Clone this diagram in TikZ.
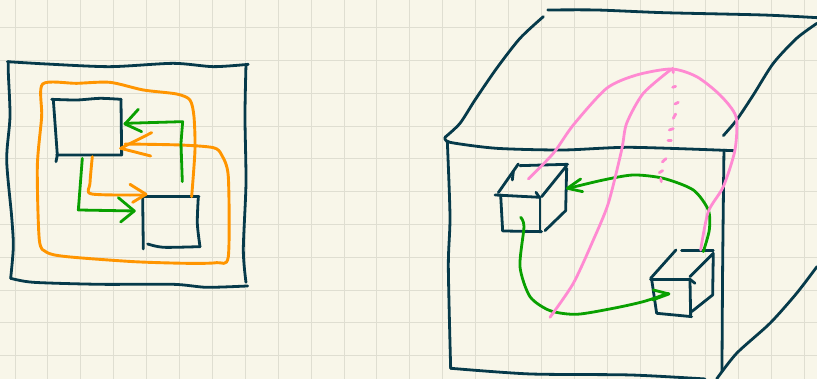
\documentclass[tikz,border=0pt]{standalone}
\definecolor{paper}{HTML}{F8F6E9}
\definecolor{gridc}{HTML}{DFDED1}
\definecolor{ink}{HTML}{063A4A}
\definecolor{orangeink}{HTML}{FF9500}
\definecolor{greenink}{HTML}{09A000}
\definecolor{pinkink}{HTML}{FF8AD2}
\tikzset{
  pen/.style={line width=2.8pt,line cap=round,line join=round},
  dk/.style={pen,draw=ink},
  og/.style={pen,draw=orangeink,line width=2.9pt},
  gn/.style={pen,draw=greenink},
  pk/.style={pen,draw=pinkink},
  sm/.style={smooth,tension=0.45},
  leftpart/.style={x=0.3333pt,y=-0.3333pt,shift={(0pt,-50pt)}},
  rightpart/.style={x=0.3333pt,y=-0.3333pt,shift={(430pt,0pt)}}
}
\begin{document}
\begin{tikzpicture}[x=1pt,y=-1pt]
\useasboundingbox (0,0) rectangle (817,379);
\fill[paper] (0,0) rectangle (817,379);
% grid
\foreach \k in {0,...,24} \draw[gridc,line width=1pt] ({15+32.9*\k},0) -- ({15+32.9*\k},379);
\foreach \k in {0,...,10} \draw[gridc,line width=1pt] (0,{27.7+32.8*\k}) -- (817,{27.7+32.8*\k});
% left sketch
\begin{scope}[leftpart]
\draw[dk] plot[sm] coordinates {(22,35)(140,42)(330,50)(520,40)(640,50)(745,43)};
\draw[dk] plot[sm] coordinates {(25,35)(25,70)(30,200)(20,330)(35,500)(40,590)(32,685)};
\draw[dk] plot[sm] coordinates {(738,45)(735,200)(738,400)(730,600)(738,697)};
\draw[dk] plot[sm] coordinates {(32,685)(100,697)(300,703)(520,703)(620,712)(743,708)};
\draw[dk] plot[sm] coordinates {(155,148)(230,150)(300,145)(363,148)};
\draw[dk] (363,148) -- (365,315) -- (170,315);
\draw[dk] (160,150) -- (172,315) -- (168,335);
\draw[dk] (425,440) -- (597,440);
\draw[dk] plot[sm] coordinates {(595,440)(592,520)(600,590)};
\draw[dk] plot[sm] coordinates {(443,582)(490,592)(600,590)};
\draw[dk] (428,440) -- (430,597);
\draw[og] plot[sm] coordinates {(575,440)(585,300)(582,200)(570,150)(530,132)(430,120)(330,97)(230,100)(128,102)(125,200)(112,350)(118,570)(140,607)(200,620)(400,635)(560,640)(650,638)(685,620)(685,380)(665,315)(640,293)(540,285)(375,282)};
\draw[og] (455,248) -- (362,295) -- (452,318);
\draw[og] plot[sm] coordinates {(277,320)(270,400)(275,432)(435,435)};
\draw[og] (390,403) -- (438,433) -- (398,457);
\draw[gn] (547,395) -- (543,280) -- (548,215) -- (375,220);
\draw[gn] (415,178) -- (375,222) -- (425,245);
\draw[gn] (247,325) -- (235,480) -- (403,483);
\draw[gn] (355,443) -- (403,483) -- (362,516);
\end{scope}
% right sketch
\begin{scope}[rightpart]
\draw[dk] plot[sm] coordinates {(45,412)(90,370)(135,300)(200,205)(270,115)(340,50)};
\draw[dk] plot[sm] coordinates {(353,30)(500,30)(700,38)(1000,45)(1161,53)};
\draw[dk] plot[sm] coordinates {(1161,70)(1100,115)(1030,190)(970,285)(920,360)(880,407)};
\draw[dk] plot[sm] coordinates {(45,412)(60,427)(200,445)(400,450)(600,442)(910,452)};
\draw[dk] plot[sm] coordinates {(52,425)(60,650)(55,800)(62,1105)};
\draw[dk] plot[sm] coordinates {(62,1105)(300,1122)(600,1125)(825,1137)};
\draw[dk] plot[sm] coordinates {(882,450)(878,800)(876,1115)};
\draw[dk] plot[sm] coordinates {(860,1137)(920,1060)(1020,970)(1100,880)(1161,800)};
% cube 1
\draw[dk] (195,585) -- (330,592);
\draw[dk] (212,585) -- (218,693) -- (335,695);
\draw[dk] (330,592) -- (330,695);
\draw[dk] (205,578) -- (265,492);
\draw[dk] (247,540) -- (250,515);
\draw[dk] (270,497) -- (413,493);
\draw[dk] (335,590) -- (410,497);
\draw[dk] (410,505) -- (407,632) -- (345,692);
\draw[dk] (318,577) -- (328,592);
% cube 2
\draw[dk] (662,838) -- (780,838);
\draw[dk] (665,838) -- (680,940) -- (785,950);
\draw[dk] (780,838) -- (782,945);
\draw[dk] (662,835) -- (738,750);
\draw[dk] (755,752) -- (850,752);
\draw[dk] (780,830) -- (850,760) -- (848,885) -- (785,935);
\draw[dk] (780,838) -- (795,850);
% green
\draw[gn] plot[sm] coordinates {(272,652)(282,680)(270,800)(300,890)(360,932)(440,943)(550,925)(640,905)(715,880)};
\draw[gn] (670,870) -- (717,882) -- (668,900);
\draw[gn] plot[sm] coordinates {(820,755)(838,690)(835,630)(790,570)(700,535)(610,525)(520,540)(415,565)};
\draw[gn] (452,537) -- (412,565) -- (458,575);
% pink
\draw[pk] plot[sm] coordinates {(295,537)(370,460)(430,375)(530,265)(620,225)(725,207)(800,230)(870,285)(918,350)(915,450)(880,560)(835,635)(812,750)};
\draw[pk] plot[sm] coordinates {(360,952)(430,850)(490,720)(535,610)(575,450)(590,370)(640,280)(725,207)};
\draw[pk] (728,205) -- (730,218);
\foreach \a/\b/\c/\d in {728/262/737/259,735/312/745/307,730/355/737/342,718/390/730/386,714/422/724/422,697/486/708/476,688/518/698/512,692/535/694/545}
  \draw[pk] (\a,\b) -- (\c,\d);
\end{scope}
\end{tikzpicture}
\end{document}
